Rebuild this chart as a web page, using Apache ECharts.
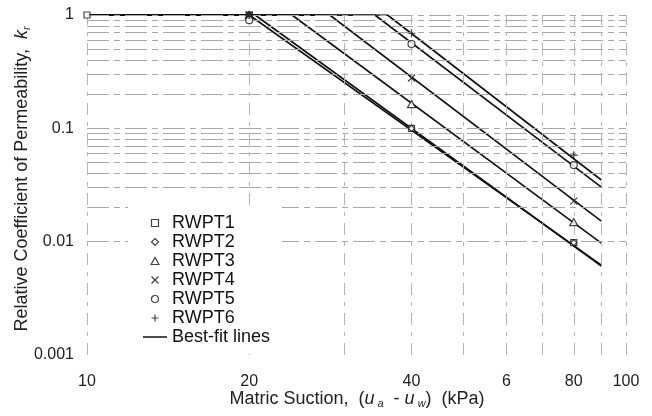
<!DOCTYPE html>
<html>
<head>
<meta charset="utf-8">
<script src="https://cdn.jsdelivr.net/npm/echarts@6/dist/echarts.min.js"></script>
<style>
  html, body { margin: 0; padding: 0; background: #fff; }
  #chart { width: 652px; height: 416px; }
</style>
</head>
<body>
<div id="chart"></div>
<script>
// Axis ticks and labels
const suctionTicks = [10, 20, 40, 60, 80, 100];
const suctionTickLabels = ['10', '20', '40', '6', '80', '100'];
const kTicks = [1, 0.1, 0.01, 0.001];
const kTickLabels = ['1', '0.1', '0.01', '0.001'];

// Grid line positions (log-cycle lines)
const gridSuction = [10, 20, 30, 40, 50, 60, 70, 80, 90, 100];
const gridK = [
  0.001, 0.002, 0.003, 0.004, 0.005, 0.006, 0.007, 0.008, 0.009,
  0.01, 0.02, 0.03, 0.04, 0.05, 0.06, 0.07, 0.08, 0.09,
  0.1, 0.2, 0.3, 0.4, 0.5, 0.6, 0.7, 0.8, 0.9, 1
];

// Measured points: [suction (kPa), k_r]
const rwpt1 = [[10, 1], [20, 1], [40, 0.1], [80, 0.0098]];
const rwpt2 = [[20, 1], [40, 0.1], [80, 0.0098]];
const rwpt3 = [[20, 1], [40, 0.164], [80, 0.0149]];
const rwpt4 = [[20, 1], [40, 0.278], [80, 0.0228]];
const rwpt5 = [[20, 0.9], [40, 0.555], [80, 0.0474]];
const rwpt6 = [[20, 1], [40, 0.69], [80, 0.058]];

// Best-fit lines: flat at 1 up to the air-entry value, then straight on log-log
const fit1 = [[10, 1], [20, 1], [90, 0.0062]];
const fit2 = [[10, 1], [20.5, 1], [90, 0.0061]];
const fit3 = [[10, 1], [24, 1], [90, 0.0097]];
const fit4 = [[10, 1], [28.2, 1], [90, 0.0152]];
const fit5 = [[10, 1], [34.2, 1], [90, 0.0303]];
const fit6 = [[10, 1], [36.1, 1], [90, 0.035]];

const FONT = '"Liberation Sans", Arial, Helvetica, sans-serif';
const INK = '#111';

const symbols = {
  square: 'path://M0,0L10,0L10,10L0,10Z',
  diamond: 'path://M5,0L10,5L5,10L0,5Z',
  triangle: 'path://M5,0L10,9L0,9Z',
  cross: 'path://M0,0L10,10M10,0L0,10',
  plus: 'path://M5,0L5,10M0,5L10,5',
  dash: 'path://M0,0L24,0L24,1.5L0,1.5Z'
};

function pointSeries(name, data, symbol, size) {
  return {
    name: name,
    type: 'scatter',
    data: data,
    symbol: symbol,
    symbolSize: size,
    symbolKeepAspect: true,
    itemStyle: { color: '#fff', borderColor: INK, borderWidth: 1.2 },
    z: 5,
    silent: true
  };
}

function fitSeries(data) {
  return {
    name: 'Best-fit lines',
    type: 'line',
    data: data,
    symbol: 'none',
    showSymbol: false,
    lineStyle: { color: INK, width: 1.6 },
    itemStyle: { color: INK },
    z: 4,
    silent: true
  };
}

const gridLineStyle = { color: '#a8a8a8', width: 1, type: [22, 5, 6, 5] };
const gridLineStyleV = { color: '#b4b4b4', width: 1, type: [12, 7, 4, 7] };

const chart = echarts.init(document.getElementById('chart'), null, { renderer: 'canvas' });

chart.setOption({
  animation: false,
  backgroundColor: '#fff',
  grid: { left: 87, right: 26, top: 15, bottom: 61 },
  xAxis: {
    type: 'log',
    logBase: 10,
    min: 10,
    max: 100,
    axisLine: { show: false },
    axisTick: { show: false },
    splitLine: { show: false },
    minorSplitLine: { show: false },
    axisLabel: {
      customValues: suctionTicks,
      formatter: function (v) {
        const i = suctionTicks.findIndex(t => Math.abs(t - v) < 1e-6);
        return i >= 0 ? suctionTickLabels[i] : '';
      },
      margin: 19,
      fontFamily: FONT,
      fontSize: 16,
      color: '#222'
    }
  },
  yAxis: {
    type: 'log',
    logBase: 10,
    min: 0.001,
    max: 1,
    axisLine: { show: false },
    axisTick: { show: false },
    splitLine: { show: false },
    axisLabel: {
      customValues: kTicks,
      formatter: function (v) {
        const i = kTicks.findIndex(t => Math.abs(Math.log10(t) - Math.log10(v)) < 1e-6);
        return i >= 0 ? kTickLabels[i] : '';
      },
      margin: 13,
      fontFamily: FONT,
      fontSize: 16,
      color: '#222'
    }
  },
  legend: {
    orient: 'vertical',
    left: 128,
    top: 206,
    padding: [8, 12, 8, 15],
    itemGap: 1,
    itemWidth: 24,
    itemHeight: 7,
    backgroundColor: '#fff',
    symbolKeepAspect: true,
    itemStyle: { borderWidth: 1.2 },
    textStyle: { fontFamily: FONT, fontSize: 18, color: INK, lineHeight: 17 },
    data: [
      'RWPT1', 'RWPT2', 'RWPT3', 'RWPT4', 'RWPT5', 'RWPT6',
      { name: 'Best-fit lines', icon: symbols.dash, itemStyle: { color: INK, borderWidth: 0 } }
    ],
    selectedMode: false,
    z: 10
  },
  graphic: [
    {
      type: 'text',
      x: 22,
      y: 179,
      rotation: Math.PI / 2,
      style: {
        text: 'Relative Coefficient of Permeability,  {i|k}{s|r}',
        font: '18px ' + FONT,
        fill: '#222',
        align: 'center',
        verticalAlign: 'middle',
        rich: {
          i: { fontStyle: 'italic', fontSize: 18, fontFamily: FONT, fill: '#222' },
          s: { fontStyle: 'italic', fontSize: 11, fontFamily: FONT, fill: '#222', padding: [9, 0, 0, 0] }
        }
      }
    },
    {
      type: 'text',
      x: 357,
      y: 399,
      style: {
        text: 'Matric Suction,  ({i|u}{s| a}  - {i|u}{s| w})  (kPa)',
        font: '18px ' + FONT,
        fill: '#222',
        align: 'center',
        verticalAlign: 'middle',
        rich: {
          i: { fontStyle: 'italic', fontSize: 18, fontFamily: FONT, fill: '#222' },
          s: { fontStyle: 'italic', fontSize: 11, fontFamily: FONT, fill: '#222', padding: [9, 0, 0, 0] }
        }
      }
    }
  ],
  series: [
    {
      name: 'grid',
      type: 'line',
      data: [],
      silent: true,
      z: 1,
      markLine: {
        silent: true,
        symbol: ['none', 'none'],
        label: { show: false },
        animation: false,
        data: gridK.map(v => ({ yAxis: v, lineStyle: gridLineStyle }))
          .concat(gridSuction.map(v => ({ xAxis: v, lineStyle: gridLineStyleV })))
      }
    },
    fitSeries(fit1),
    fitSeries(fit2),
    fitSeries(fit3),
    fitSeries(fit4),
    fitSeries(fit5),
    fitSeries(fit6),
    pointSeries('RWPT1', rwpt1, symbols.square, 6),
    pointSeries('RWPT2', rwpt2, symbols.diamond, 6),
    pointSeries('RWPT3', rwpt3, symbols.triangle, 8),
    pointSeries('RWPT4', rwpt4, symbols.cross, 7),
    pointSeries('RWPT5', rwpt5, 'circle', 7),
    pointSeries('RWPT6', rwpt6, symbols.plus, 8)
  ]
});
</script>
</body>
</html>
